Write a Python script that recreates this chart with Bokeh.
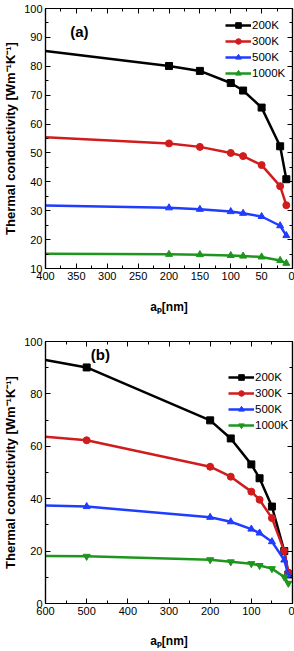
from bokeh.plotting import figure
from bokeh.layouts import column
from bokeh.models import (LinearAxis, SingleIntervalTicker, Range1d, Legend, LegendItem,
                          Label, CustomJSTickFormatter)
from bokeh.embed import file_html
from bokeh.resources import INLINE

# ---- data: panel (a)
xa = [400, 200, 150, 100, 80, 50, 20, 10]
a_200 = [85.3, 80.1, 78.4, 74.2, 71.6, 65.7, 52.3, 40.9]
a_300 = [55.4, 53.3, 52.1, 50.0, 48.9, 45.8, 38.5, 31.9]
a_500 = [31.8, 31.0, 30.5, 29.7, 29.1, 28.0, 24.8, 21.4]
a_1000 = [15.1, 14.9, 14.8, 14.5, 14.3, 14.0, 12.8, 11.8]

# ---- data: panel (b)
xb = [600, 500, 200, 150, 100, 80, 50, 20, 10]
b_200 = [92.9, 90.1, 69.9, 63.0, 53.1, 47.8, 37.0, 20.0, 11.1]
b_300 = [63.6, 62.3, 52.2, 48.4, 42.7, 39.6, 32.6, 20.0, 11.8]
b_500 = [37.4, 37.0, 32.9, 31.2, 28.4, 26.9, 23.6, 16.6, 10.7]
b_1000 = [18.1, 18.0, 16.7, 15.9, 15.2, 14.5, 13.3, 10.1, 7.7]

labels = ["200K", "300K", "500K", "1000K"]
colors = ["#000000", "#d01c1c", "#1f3cff", "#1e961e"]
FONT = "Liberation Sans"


def make_fig(xs, series, xr, yr, xstep, ystep, tag, tagpos,
             leg_markers, top_border, frame_h, leg_loc, xlab_standoff):
    p = figure(frame_width=247, frame_height=frame_h, output_backend="svg",
               toolbar_location=None, x_range=Range1d(*xr), y_range=Range1d(*yr),
               min_border_left=0, min_border_right=2, min_border_top=top_border,
               min_border_bottom=0)
    p.xgrid.visible = False
    p.ygrid.visible = False
    p.outline_line_color = "black"
    p.outline_line_width = 1.2
    p.background_fill_color = "white"
    p.border_fill_color = "white"

    xt = SingleIntervalTicker(interval=xstep, num_minor_ticks=2)
    yt = SingleIntervalTicker(interval=ystep, num_minor_ticks=2)
    p.xaxis.ticker = xt
    p.yaxis.ticker = yt
    for ax in (p.xaxis[0], p.yaxis[0]):
        ax.major_tick_in = 5
        ax.major_tick_out = 0
        ax.minor_tick_in = 3
        ax.minor_tick_out = 0
        ax.axis_line_width = 1.2
        ax.major_label_text_font = FONT
        ax.major_label_text_font_size = "11px"
        ax.major_label_text_color = "black"
        ax.axis_label_text_font = FONT
        ax.axis_label_text_font_style = "bold"
        ax.axis_label_text_color = "black"
    p.xaxis.axis_label_text_font_size = "12px"
    p.yaxis.axis_label_text_font_size = "13px"
    p.xaxis.major_label_standoff = 3
    p.yaxis.major_label_standoff = 3
    p.xaxis.axis_label = "aₚ[nm]"
    p.xaxis.axis_label_standoff = xlab_standoff
    p.yaxis.axis_label = "Thermal conductivity [Wm⁻¹K⁻¹]"
    p.yaxis.axis_label_standoff = 3

    # mirror axes (ticks only)
    for loc, tk in (("right", yt), ("above", xt)):
        ax = LinearAxis(ticker=tk, major_tick_in=5, major_tick_out=0,
                        minor_tick_in=3, minor_tick_out=0,
                        formatter=CustomJSTickFormatter(code="return ''"),
                        major_label_standoff=0, axis_line_width=1.2)
        p.add_layout(ax, loc)

    items = []
    for (ys, lab, col, lm) in zip(series, labels, colors, leg_markers):
        ln = p.line(xs, ys, line_color=col, line_width=2.5)
        sc = p.scatter(xs[1:], ys[1:], marker=lm, size=7, fill_color=col, line_color=col)
        items.append(LegendItem(label=lab, renderers=[ln, sc]))

    leg = Legend(items=items, location=leg_loc)
    leg.label_text_font = FONT
    leg.label_text_font_size = "11.5px"
    leg.label_text_color = "black"
    leg.glyph_width = 26
    leg.glyph_height = 14
    leg.spacing = 2
    leg.padding = 2
    leg.margin = 0
    leg.label_standoff = 1
    leg.border_line_color = None
    leg.background_fill_alpha = 0
    p.add_layout(leg, "center")

    p.add_layout(Label(x=tagpos[0], y=tagpos[1], text=tag, text_font=FONT,
                       text_font_style="bold", text_font_size="15px",
                       text_color="black", text_baseline="middle"))
    return p


p1 = make_fig(xa, [a_200, a_300, a_500, a_1000], (400, 0), (10, 100),
              50, 10, "(a)", (360, 92),
              ["square", "circle", "triangle", "triangle"], 8, 260, (180, 188), 17)
p2 = make_fig(xb, [b_200, b_300, b_500, b_1000], (600, 0), (0, 100),
              100, 20, "(b)", (490, 95),
              ["square", "circle", "triangle", "inverted_triangle"], 25, 262, (183, 171), 16)

layout = column(p1, p2, spacing=0)
open("out.html", "w").write(file_html(layout, INLINE))
